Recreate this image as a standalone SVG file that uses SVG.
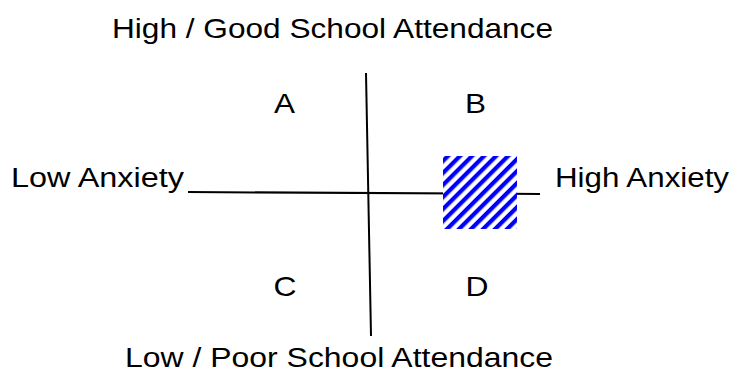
<svg xmlns="http://www.w3.org/2000/svg" width="734" height="372" viewBox="0 0 734 372">
<defs>
<pattern id="stripes" patternUnits="userSpaceOnUse" width="8.5" height="8.5" patternTransform="rotate(45)">
<rect x="0" y="0" width="8.5" height="8.5" fill="#ffffff"/>
<rect x="0" y="0" width="4.2" height="8.5" fill="#0000ff"/>
</pattern>
<style>
.t{font-family:"Liberation Sans",Arial,sans-serif;font-size:27.5px;fill:#000;}
.ax{stroke:#000;stroke-width:2;fill:none;}
</style>
</defs>
<rect width="734" height="372" fill="#ffffff"/>
<g id="connectors">
<line class="ax" x1="188" y1="192" x2="540" y2="194"/>
<line class="ax" x1="366" y1="73" x2="371" y2="336"/>
</g>
<g id="hatch-box">
<rect x="443" y="156" width="74" height="73" fill="url(#stripes)"/>
</g>
<g id="label-top"><text class="t" x="112" y="37.7" textLength="441" lengthAdjust="spacingAndGlyphs">High / Good School Attendance</text></g>
<g id="label-bottom"><text class="t" x="125" y="366.5" textLength="428" lengthAdjust="spacingAndGlyphs">Low / Poor School Attendance</text></g>
<g id="label-left"><text class="t" x="11" y="187" textLength="173" lengthAdjust="spacingAndGlyphs">Low Anxiety</text></g>
<g id="label-right"><text class="t" x="555" y="187" textLength="174" lengthAdjust="spacingAndGlyphs">High Anxiety</text></g>
<g id="quad-A"><text class="t" x="274" y="112.7" textLength="21" lengthAdjust="spacingAndGlyphs">A</text></g>
<g id="quad-B"><text class="t" x="465" y="112.7" textLength="21" lengthAdjust="spacingAndGlyphs">B</text></g>
<g id="quad-C"><text class="t" x="273.5" y="296" textLength="23" lengthAdjust="spacingAndGlyphs">C</text></g>
<g id="quad-D"><text class="t" x="465.5" y="296" textLength="23" lengthAdjust="spacingAndGlyphs">D</text></g>
</svg>
